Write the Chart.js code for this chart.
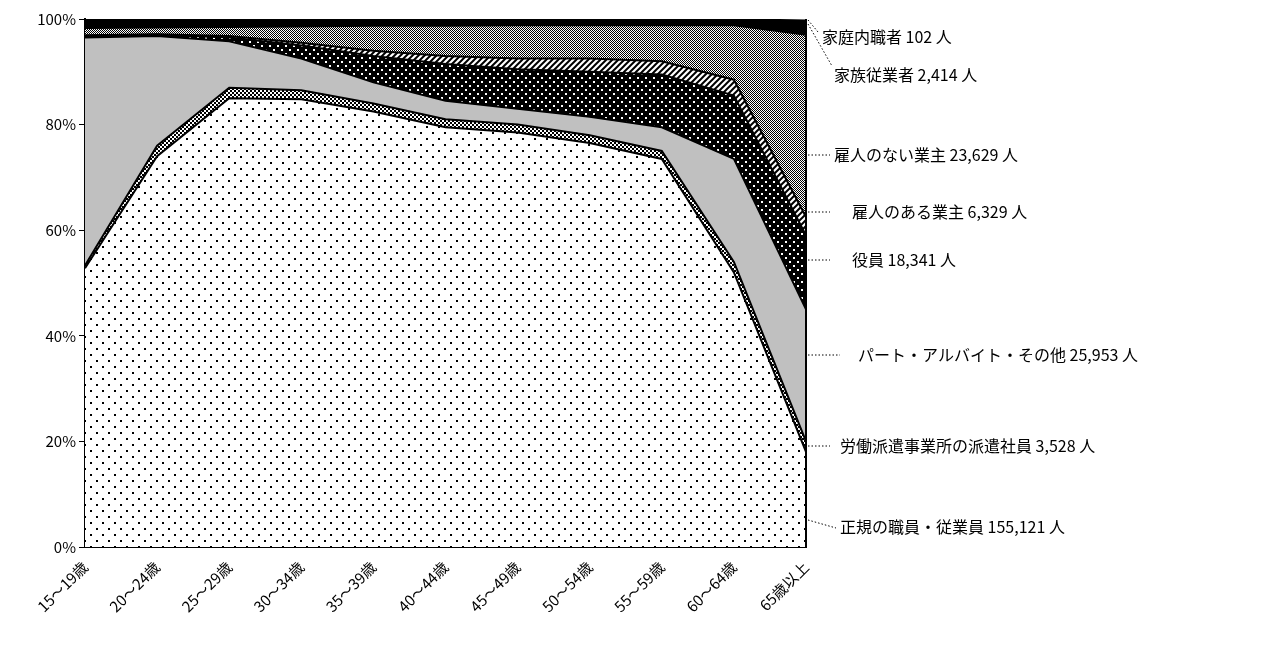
<!DOCTYPE html>
<html><head><meta charset="utf-8">
<script src="https://cdn.jsdelivr.net/npm/chart.js@4"></script>
<style>body{margin:0;background:#fff}</style>
</head><body>
<canvas id="c" width="1264" height="648"></canvas>
<script>
const ages = ['15～19歳','20～24歳','25～29歳','30～34歳','35～39歳','40～44歳','45～49歳','50～54歳','55～59歳','60～64歳','65歳以上']
const seiki   = [52.8,74,85,84.8,82.5,79.5,78.5,76.5,73.5,52,18]
const haken   = [0.5,2,2,1.7,1.5,1.5,1.5,1.5,1.5,2,2]
const part    = [43.2,20.8,8.8,6,4,3.5,3,3.5,4.5,19.5,25]
const yakuin  = [0.3,0.2,0.7,2.5,5,7,7.5,8.5,10,12,14]
const yatoiAri = [0.1,0.1,0.3,0.5,1,1.5,2,2.5,2.5,3,3.5]
const yatoiNai = [1.4,1.3,1.7,3.1,4.7,5.7,6.3,6.3,6.8,10.3,34.5]
const kazoku  = [1.5,1.4,1.3,1.2,1.1,1.1,1.0,1.0,1.0,1.0,2.5]
const naishoku = [0.2,0.2,0.2,0.2,0.2,0.2,0.2,0.2,0.2,0.2,0.2]
const yTicks = ['0%','20%','40%','60%','80%','100%']
const legendLabels = ['家庭内職者 102 人','家族従業者 2,414 人','雇人のない業主 23,629 人','雇人のある業主 6,329 人','役員 18,341 人','パート・アルバイト・その他 25,953 人','労働派遣事業所の派遣社員 3,528 人','正規の職員・従業員 155,121 人']

function pat(size, draw){
    const c = document.createElement('canvas')
    c.width = size; c.height = size
    const g = c.getContext('2d')
    draw(g)
    return g.createPattern(c, 'repeat')
}
const dots = pat(12, g => { g.fillStyle='#fff'; g.fillRect(0,0,12,12); g.fillStyle='#000'; g.fillRect(0,0,2,2); g.fillRect(6,6,2,2) })
const check = pat(4, g => { g.fillStyle='#fff'; g.fillRect(0,0,4,4); g.fillStyle='#000'; g.fillRect(0,0,2,2); g.fillRect(2,2,2,2) })
const blackDots = pat(8, g => { g.fillStyle='#000'; g.fillRect(0,0,8,8); g.fillStyle='#fff'; g.fillRect(1,1,2,2); g.fillRect(5,5,2,2) })
const stripes = pat(6, g => { g.fillStyle='#fff'; g.fillRect(0,0,6,6); g.strokeStyle='#000'; g.lineWidth=2; g.beginPath(); g.moveTo(-1,7); g.lineTo(7,-1); g.moveTo(-4,4); g.lineTo(4,-4); g.moveTo(2,10); g.lineTo(10,2); g.stroke() })
const fine = pat(2, g => { g.fillStyle='#fff'; g.fillRect(0,0,2,2); g.fillStyle='#000'; g.fillRect(0,0,1,1); g.fillRect(1,1,1,1) })

function ds(data, bg, fill){
    return {data: data, backgroundColor: bg, borderColor: '#000', borderWidth: 2, fill: fill, pointRadius: 0, tension: 0}
}

const leaderPlugin = {
    id: 'leaders',
    afterDraw(chart){
        const c = chart.ctx
        const items = [
            [808,20,818,32,822,37],
            [808,24,832,66,834,75],
            [808,155,830,155,834,155],
            [808,212,830,212,852,212],
            [808,260,830,260,852,260],
            [808,355,840,355,858,355],
            [808,446,830,446,840,446],
            [808,520,836,528,840,527]
        ]
        c.save()
        c.font = '16px "Noto Sans CJK JP"'
        c.fillStyle = '#000'
        c.textBaseline = 'middle'
        c.strokeStyle = '#000'
        c.lineWidth = 1
        c.setLineDash([1.5,2])
        items.forEach((it, i) => {
            c.beginPath(); c.moveTo(it[0], it[1]); c.lineTo(it[2], it[3]); c.stroke()
            c.fillText(legendLabels[i], it[4], it[5])
        })
        c.restore()
    }
}

new Chart(document.getElementById('c'), {
    type: 'line',
    data: {
        labels: ages,
        datasets: [
            ds(seiki, dots, 'origin'),
            ds(haken, check, '-1'),
            ds(part, '#c0c0c0', '-1'),
            ds(yakuin, blackDots, '-1'),
            ds(yatoiAri, stripes, '-1'),
            ds(yatoiNai, fine, '-1'),
            ds(kazoku, '#000', '-1'),
            ds(naishoku, '#000', '-1')
        ]
    },
    options: {
        responsive: false,
        animation: false,
        layout: {padding: {left: 0, right: 458, top: 19, bottom: 0}},
        plugins: {legend: {display: false}, tooltip: {enabled: false}},
        scales: {
            x: {
                offset: false,
                grid: {display: false},
                border: {color: '#000', width: 2},
                ticks: {color: '#000', maxRotation: 45, minRotation: 45, font: {family: '"Noto Sans CJK JP"', size: 15}},
                afterFit: s => { s.height = 101 }
            },
            y: {
                stacked: true, min: 0, max: 100,
                grid: {drawOnChartArea: false, color: '#000', tickLength: 6},
                border: {color: '#000', width: 2},
                ticks: {stepSize: 20, color: '#000', font: {family: '"Noto Sans CJK JP"', size: 15}, callback: (v, i) => yTicks[i]},
                afterFit: s => { s.width = 85 }
            }
        }
    },
    plugins: [leaderPlugin, {
        id: 'rightBorder',
        afterDatasetsDraw(chart){
            const a = chart.chartArea, c = chart.ctx
            c.save(); c.strokeStyle='#000'; c.lineWidth=2
            c.beginPath(); c.moveTo(a.right, a.top); c.lineTo(a.right, a.bottom); c.stroke()
            c.restore()
        }
    }]
})
</script>
</body></html>
